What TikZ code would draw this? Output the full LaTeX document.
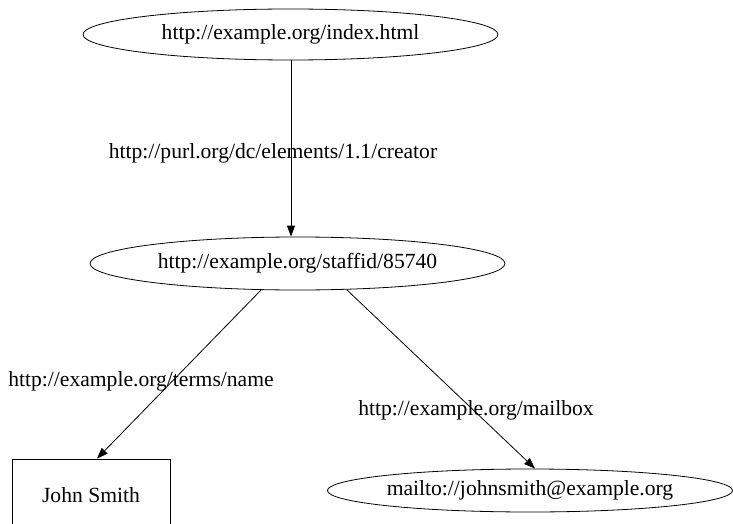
\documentclass[tikz,border=0pt]{standalone}
\usepackage{fontspec}
\setmainfont{Liberation Serif}
\usetikzlibrary{shapes.geometric,arrows.meta}
\begin{document}
\begin{tikzpicture}[x=1pt,y=-1pt,
  every node/.style={font=\fontsize{21.6}{25}\selectfont},
  ell/.style={draw,ellipse,inner sep=0pt,line width=0.8pt},
  rbox/.style={draw,rectangle,inner sep=0pt,line width=0.8pt},
  lbl/.style={inner sep=0pt},
  arr/.style={line width=0.8pt,-{Triangle[length=11pt,width=8pt]}}]
\useasboundingbox (0,0) rectangle (733,524);
\clip (0,0) rectangle (733,524);
\node[ell,minimum width=415pt,minimum height=51pt] (idx) at (290.5,34.5) {http://example.org/index.html};
\node[ell,minimum width=415pt,minimum height=53pt] (staff) at (297.5,263.5) {http://example.org/staffid/85740};
\node[rbox,minimum width=158pt,minimum height=72pt] (john) at (91,495) {John Smith};
\node[ell,minimum width=404pt,minimum height=43pt] (mail) at (530,490.5) {mailto://johnsmith@example.org};
\node[lbl] (lc) at (273,153) {http://purl.org/dc/elements/1.1/creator};
\node[lbl] (ln) at (141,381) {http://example.org/terms/name};
\node[lbl] (lm) at (476,410) {http://example.org/mailbox};
\draw[arr] (idx.south -| 291,0) -- (291,0 |- staff.north);
\draw[arr] (staff.216) -- ([xshift=6pt]john.north);
\draw[arr] (staff.332) -- ([xshift=5pt]mail.north);
\end{tikzpicture}
\end{document}
